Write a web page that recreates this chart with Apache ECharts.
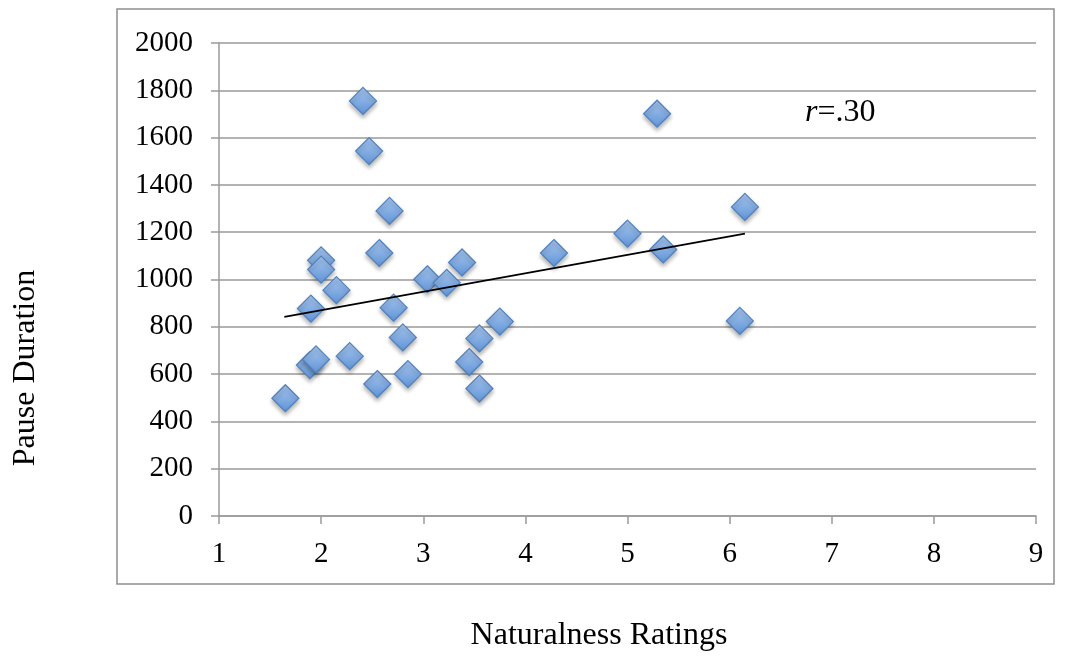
<!DOCTYPE html>
<html>
<head>
<meta charset="utf-8">
<script src="https://cdn.jsdelivr.net/npm/echarts@6/dist/echarts.min.js"></script>
<style>
  html, body { margin: 0; padding: 0; background: #fff; }
  #chart { width: 1066px; height: 656px; }
</style>
</head>
<body>
<div id="chart"></div>
<script>
// ratings (x) and pause durations (y)
const ratings = [2.41, 2.47, 2.67, 2.57, 2.00, 2.00, 2.15, 1.90, 2.71, 3.04,
                 3.23, 3.38, 2.80, 3.55, 3.75, 1.89, 1.95, 2.28, 2.85, 3.45,
                 2.55, 3.55, 1.65, 5.29, 6.15, 5.00, 5.35, 4.28, 6.10];
const pauses  = [1755, 1543, 1290, 1112, 1081, 1042, 955, 877, 881, 1001,
                 986, 1072, 755, 751, 822, 638, 662, 676, 600, 651,
                 558, 539, 498, 1701, 1307, 1194, 1127, 1112, 825];
// trend line end points as drawn
const trendX = [1.64, 6.15];
const trendY = [842, 1194];
const xTicks = [1, 9, 1];      // min, max, step
const yTicks = [0, 2000, 200];

const font = 'Liberation Serif, Times New Roman, serif';
const grey = '#9a9a9a';

const chart = echarts.init(document.getElementById('chart'));
const option = {
  animation: false,
  grid: { left: 219, right: 30, top: 43, bottom: 140 },
  xAxis: {
    type: 'value',
    min: xTicks[0], max: xTicks[1], interval: xTicks[2],
    axisLine: { show: true, lineStyle: { color: grey, width: 1.5 } },
    axisTick: { show: true, length: 8, lineStyle: { color: grey, width: 1.5 } },
    splitLine: { show: false },
    axisLabel: { color: '#000', fontSize: 29, fontFamily: font, margin: 24 }
  },
  yAxis: {
    type: 'value',
    min: yTicks[0], max: yTicks[1], interval: yTicks[2],
    axisLine: { show: true, lineStyle: { color: grey, width: 1.5 } },
    axisTick: { show: true, length: 8, lineStyle: { color: grey, width: 1.5 } },
    splitLine: { show: true, lineStyle: { color: grey, width: 1.5 } },
    axisLabel: { color: '#000', fontSize: 29, fontFamily: font, margin: 26,
                 formatter: v => String(v) }
  },
  series: [
    {
      type: 'scatter',
      data: ratings.map((r, i) => [r, pauses[i]]),
      symbol: 'diamond',
      symbolSize: 27,
      itemStyle: {
        color: new echarts.graphic.LinearGradient(0, 0, 0, 1, [
          { offset: 0, color: '#a9c8f0' },
          { offset: 1, color: '#5f93d6' }
        ]),
        borderColor: '#4f81bd',
        borderWidth: 1.2,
        opacity: 1,
        shadowBlur: 4,
        shadowOffsetY: 3,
        shadowColor: 'rgba(0,0,0,0.3)'
      },
      z: 3
    },
    {
      type: 'line',
      data: trendX.map((x, i) => [x, trendY[i]]),
      symbol: 'none',
      lineStyle: { color: '#000', width: 2 },
      z: 4
    }
  ],
  graphic: [
    {
      type: 'rect',
      shape: { x: 117, y: 9, width: 937, height: 575 },
      style: { fill: 'none', stroke: '#8e8e8e', lineWidth: 1.5 },
      silent: true
    },
    {
      type: 'text',
      x: 599, y: 636,
      style: { text: 'Naturalness Ratings', font: '32px ' + font, fill: '#000',
               textAlign: 'center', textVerticalAlign: 'middle' }
    },
    {
      type: 'text',
      x: 26, y: 368, rotation: Math.PI / 2,
      style: { text: 'Pause Duration', font: '32px ' + font, fill: '#000',
               textAlign: 'center', textVerticalAlign: 'middle' }
    },
    {
      type: 'text',
      x: 805, y: 113,
      style: {
        text: '{i|r}{n|=.30}',
        textVerticalAlign: 'middle',
        rich: {
          i: { fontSize: 32, fontFamily: font, fontStyle: 'italic', fill: '#000' },
          n: { fontSize: 32, fontFamily: font, fill: '#000' }
        }
      }
    }
  ]
};
option && chart.setOption(option);
</script>
</body>
</html>
